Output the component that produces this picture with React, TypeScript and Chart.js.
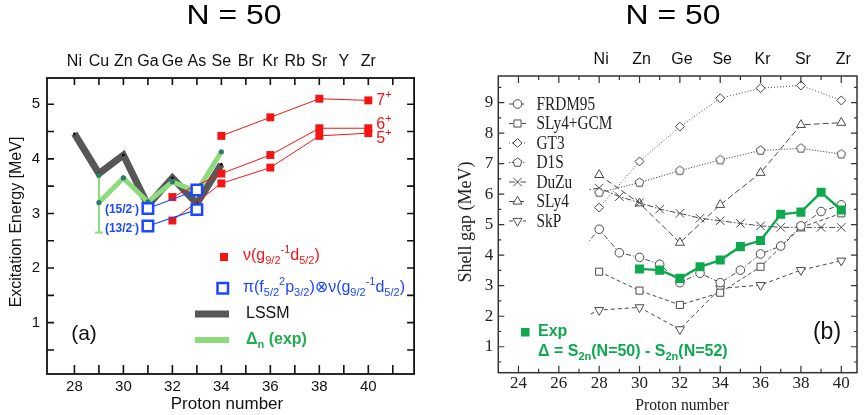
import React, { useEffect, useRef } from 'react';
import { Chart, registerables } from 'chart.js';
import { drawPoint } from 'chart.js/helpers';

Chart.register(...registerables);

// ---------------- Panel (a) data ----------------
const aElements = ['Ni', 'Cu', 'Zn', 'Ga', 'Ge', 'As', 'Se', 'Br', 'Kr', 'Rb', 'Sr', 'Y', 'Zr'];
const aElementZ = [28, 29, 30, 31, 32, 33, 34, 35, 36, 37, 38, 39, 40];
const aXTicks = [28, 30, 32, 34, 36, 38, 40];
const aYTicks = [1, 2, 3, 4, 5];
const lssmZ = [28, 29, 30, 31, 32, 33, 34];
const lssmE = [4.46, 3.73, 4.07, 3.15, 3.65, 3.18, 3.9];
const deltaZ = [29, 30, 31, 32, 33, 34];
const deltaE = [3.2, 3.65, 3.21, 3.58, 3.4, 4.13];
const deltaErrZ = [29, 29];
const deltaErrE = [2.65, 3.7];
const nu7Z = [34, 36, 38, 40];
const nu7E = [4.42, 4.76, 5.1, 5.07];
const nu6Z = [32, 34, 36, 38, 40];
const nu6E = [3.3, 3.73, 4.07, 4.56, 4.56];
const nu5Z = [32, 34, 36, 38, 40];
const nu5E = [2.87, 3.55, 3.84, 4.42, 4.47];
const piZ = [31, 33];
const pi15E = [3.09, 3.43];
const pi13E = [2.77, 3.07];
const spinLabels = ['7', '6', '5'];
const piLabels = ['(15/2', '(13/2'];

// ---------------- Panel (b) data ----------------
const bElements = ['Ni', 'Zn', 'Ge', 'Se', 'Kr', 'Sr', 'Zr'];
const bElementZ = [28, 30, 32, 34, 36, 38, 40];
const bXTicks = [24, 26, 28, 30, 32, 34, 36, 38, 40];
const bYTicks = [1, 2, 3, 4, 5, 6, 7, 8, 9];
const frdmZ = [26, 28, 29, 30, 31, 32, 33, 34, 35, 36, 37, 38, 39, 40];
const frdmG = [3.3, 4.85, 4.08, 3.93, 3.7, 3.1, 3.41, 3.1, 3.51, 4.04, 4.3, 4.96, 5.43, 5.65];
const evenZ = [28, 30, 32, 34, 36, 38, 40];
const slyGcmG = [3.46, 2.84, 2.37, 2.77, 3.62, 4.91, 5.37];
const gt3G = [5.56, 7.07, 8.21, 9.14, 9.47, 9.56, 9.07];
const d1sG = [6.05, 6.38, 6.77, 7.12, 7.43, 7.5, 7.31];
const duzuZ = [26, 28, 29, 30, 31, 32, 33, 34, 35, 36, 37, 38, 39, 40];
const duzuG = [6.0, 6.2, 5.92, 5.72, 5.51, 5.37, 5.21, 5.13, 5.04, 4.96, 4.91, 4.91, 4.91, 4.91];
const sly4G = [6.63, 5.7, 4.41, 5.65, 6.7, 8.27, 8.34];
const skpZ = [26, 28, 30, 32, 34, 36, 38, 40];
const skpG = [1.6, 2.2, 2.29, 1.57, 2.91, 3.02, 3.51, 3.82];
const expZ = [30, 31, 32, 33, 34, 35, 36, 37, 38, 39, 40];
const expG = [3.55, 3.51, 3.24, 3.62, 3.84, 4.28, 4.48, 5.34, 5.41, 6.06, 5.48];
const bLegend = ['FRDM95', 'SLy4+GCM', 'GT3', 'D1S', 'DuZu', 'SLy4', 'SkP'];

// ---------------- styles ----------------
const SANS = '"Liberation Sans", Arial, "DejaVu Sans", sans-serif';
const SERIF = '"Liberation Serif", "Times New Roman", "DejaVu Serif", serif';
const RED = '#f41414';
const BLUE = '#1d48ff';
const LSSM = '#575757';
const LGREEN = '#8ddb7c';
const DOT = '#2d7d6b';
const TGREEN = '#1fae4b';
const EXPG = '#10a84e';
const MODEL = '#4a4a4a';

const pts = (xs: number[], ys: number[]) => xs.map((x, i) => ({ x, y: ys[i] }));

type Seg = [string, number];
function rich(ctx: CanvasRenderingContext2D, segs: Seg[], x: number, y: number, size: number, weight: string, family: string, color: string, align: 'left' | 'right' | 'center' = 'left') {
  const fontFor = (k: number) => `${weight} ${k ? Math.round(size * 0.68) : size}px ${family}`;
  let w = 0;
  for (const [t, k] of segs) { ctx.font = fontFor(k); w += ctx.measureText(t).width; }
  let cx = align === 'right' ? x - w : align === 'center' ? x - w / 2 : x;
  ctx.save();
  ctx.fillStyle = color; ctx.textBaseline = 'middle'; ctx.textAlign = 'left';
  for (const [t, k] of segs) {
    ctx.font = fontFor(k);
    const dy = k === 1 ? size * 0.3 : k === 2 ? -size * 0.35 : 0;
    ctx.fillText(t, cx, y + dy);
    cx += ctx.measureText(t).width;
  }
  ctx.restore();
}
function txt(ctx: CanvasRenderingContext2D, s: string, x: number, y: number, font: string, color: string, align: CanvasTextAlign = 'center', sx = 1, rot = 0) {
  ctx.save();
  ctx.translate(x, y);
  if (rot) ctx.rotate(rot);
  ctx.scale(sx, 1);
  ctx.font = font; ctx.fillStyle = color; ctx.textAlign = align; ctx.textBaseline = 'middle';
  ctx.fillText(s, 0, 0);
  ctx.restore();
}
function makePentagon(r: number, stroke: string) {
  const c = document.createElement('canvas');
  const s = Math.ceil(r * 2 + 3);
  c.width = s; c.height = s;
  const g = c.getContext('2d')!;
  g.beginPath();
  for (let i = 0; i < 5; i++) {
    const ang = -Math.PI / 2 + (i * 2 * Math.PI) / 5;
    const px = s / 2 + r * Math.cos(ang), py = s / 2 + r * Math.sin(ang);
    if (i) g.lineTo(px, py); else g.moveTo(px, py);
  }
  g.closePath();
  g.fillStyle = '#fff'; g.fill();
  g.strokeStyle = stroke; g.lineWidth = 1; g.stroke();
  return c;
}

export default function App() {
  const refA = useRef<HTMLCanvasElement>(null);
  const refB = useRef<HTMLCanvasElement>(null);

  useEffect(() => {
    // ---------- chart (a) ----------
    const decorA = {
      id: 'decorA',
      afterDraw(chart: any) {
        const { ctx, chartArea: a, scales } = chart;
        const xs = scales.x, ys = scales.y;
        ctx.save();
        ctx.strokeStyle = '#111'; ctx.lineWidth = 1.6;
        ctx.beginPath();
        for (let z = 28; z <= 41; z++) {
          const px = xs.getPixelForValue(z);
          ctx.moveTo(px, a.bottom); ctx.lineTo(px, a.bottom - 9);
          ctx.moveTo(px, a.top); ctx.lineTo(px, a.top + 7);
        }
        for (let v = 0.5; v <= 5.01; v += 0.5) {
          const py = ys.getPixelForValue(v);
          ctx.moveTo(a.left, py); ctx.lineTo(a.left + 7, py);
          ctx.moveTo(a.right, py); ctx.lineTo(a.right - 7, py);
        }
        ctx.stroke();
        ctx.lineWidth = 1.8;
        ctx.strokeRect(a.left, a.top, a.right - a.left, a.bottom - a.top);
        ctx.restore();

        txt(ctx, 'N = 50', 234, 16, `28px ${SANS}`, '#000', 'center', 1.14);
        aElements.forEach((el, i) => txt(ctx, el, xs.getPixelForValue(aElementZ[i]), 61.5, `16px ${SANS}`, '#111'));
        txt(ctx, 'Proton number', 227, 404, `17px ${SANS}`, '#111');
        txt(ctx, 'Excitation Energy [MeV]', 17, 222, `16px ${SANS}`, '#111', 'center', 1, -Math.PI / 2);

        // spin labels
        const lx = xs.getPixelForValue(40) + 8;
        rich(ctx, [[spinLabels[0], 0], ['+', 2]], lx, ys.getPixelForValue(nu7E[3]), 16, 'normal', SANS, RED);
        rich(ctx, [[spinLabels[1], 0], ['+', 2]], lx, ys.getPixelForValue(nu6E[4]) - 4, 16, 'normal', SANS, RED);
        rich(ctx, [[spinLabels[2], 0], ['+', 2]], lx, ys.getPixelForValue(nu5E[4]) + 5, 16, 'normal', SANS, RED);
        // pi labels
        const gx = xs.getPixelForValue(piZ[0]) - 9;
        rich(ctx, [[piLabels[0], 0], ['-', 2], [')', 0]], gx, ys.getPixelForValue(pi15E[0]) + 1, 12, 'bold', SANS, BLUE, 'right');
        rich(ctx, [[piLabels[1], 0], ['-', 2], [')', 0]], gx, ys.getPixelForValue(pi13E[0]) + 3, 12, 'bold', SANS, BLUE, 'right');

        // legend
        ctx.save();
        ctx.fillStyle = RED;
        ctx.fillRect(220, 253, 8, 8);
        ctx.strokeStyle = BLUE; ctx.lineWidth = 2.5; ctx.fillStyle = '#fff';
        ctx.fillRect(217.5, 283, 10.5, 10.5);
        ctx.strokeRect(217.5, 283, 10.5, 10.5);
        ctx.lineCap = 'butt';
        ctx.strokeStyle = LSSM; ctx.lineWidth = 7;
        ctx.beginPath(); ctx.moveTo(195, 314); ctx.lineTo(229, 314); ctx.stroke();
        ctx.strokeStyle = LGREEN; ctx.lineWidth = 6;
        ctx.beginPath(); ctx.moveTo(195, 340); ctx.lineTo(229, 340); ctx.stroke();
        ctx.restore();
        rich(ctx, [['\u03bd(g', 0], ['9/2', 1], ['-1', 2], ['d', 0], ['5/2', 1], [')', 0]], 243, 256, 16, 'normal', SANS, RED);
        rich(ctx, [['\u03c0(f', 0], ['5/2', 1], ['2', 2], ['p', 0], ['3/2', 1], [')\u2297\u03bd(g', 0], ['9/2', 1], ['-1', 2], ['d', 0], ['5/2', 1], [')', 0]], 243, 288, 16, 'normal', SANS, BLUE);
        rich(ctx, [['LSSM', 0]], 246, 314, 16, 'normal', SANS, '#111');
        rich(ctx, [['\u0394', 0], ['n', 1], [' (exp)', 0]], 246, 340, 16, 'bold', SANS, TGREEN);
        txt(ctx, '(a)', 84, 334, `21px ${SANS}`, '#111');
      },
    };

    const ca = new Chart(refA.current!, {
      type: 'line',
      data: {
        datasets: [
          { label: 'pi15', data: pts(piZ, pi15E), borderColor: BLUE, borderWidth: 1.2, pointStyle: 'rect', pointRadius: 7.4, pointBorderWidth: 2.5, pointBackgroundColor: '#fff', pointBorderColor: BLUE, order: 1 },
          { label: 'pi13', data: pts(piZ, pi13E), borderColor: BLUE, borderWidth: 1.2, pointStyle: 'rect', pointRadius: 7.4, pointBorderWidth: 2.5, pointBackgroundColor: '#fff', pointBorderColor: BLUE, order: 1 },
          { label: '7+', data: pts(nu7Z, nu7E), borderColor: RED, borderWidth: 1, pointStyle: 'rect', pointRadius: 5.6, pointBorderWidth: 0, pointBackgroundColor: RED, order: 2 },
          { label: '6+', data: pts(nu6Z, nu6E), borderColor: RED, borderWidth: 1, pointStyle: 'rect', pointRadius: 5.6, pointBorderWidth: 0, pointBackgroundColor: RED, order: 2 },
          { label: '5+', data: pts(nu5Z, nu5E), borderColor: RED, borderWidth: 1, pointStyle: 'rect', pointRadius: 5.6, pointBorderWidth: 0, pointBackgroundColor: RED, order: 2 },
          { label: 'delta', data: pts(deltaZ, deltaE), borderColor: LGREEN, borderWidth: 5, pointStyle: 'circle', pointRadius: 2.6, pointBorderWidth: 0, pointBackgroundColor: DOT, order: 3 },
          { label: 'err', data: pts(deltaErrZ, deltaErrE), borderColor: LGREEN, borderWidth: 2, pointStyle: ['line', 'circle'], pointRadius: [4, 2.6], pointBorderWidth: [2, 0], pointBorderColor: LGREEN, pointBackgroundColor: DOT, order: 4 },
          { label: 'LSSM', data: pts(lssmZ, lssmE), borderColor: LSSM, borderWidth: 7, pointStyle: 'circle', pointRadius: 1.5, pointBorderWidth: 0, pointBackgroundColor: '#111', order: 5 },
        ] as any,
      },
      options: {
        animation: false,
        responsive: false,
        events: [],
        layout: { padding: { left: 0, right: 1, top: 78, bottom: 0 } },
        plugins: { legend: { display: false }, tooltip: { enabled: false }, title: { display: false } },
        scales: {
          x: {
            type: 'linear', min: 26.88, max: 41.87,
            afterBuildTicks: (s: any) => { s.ticks = aXTicks.map((v) => ({ value: v })); },
            afterFit: (s: any) => { s.height = 41; },
            ticks: { font: { family: SANS, size: 15 }, color: '#111', padding: 4, maxRotation: 0, autoSkip: false },
            grid: { display: false, drawTicks: false },
            border: { display: false },
          },
          y: {
            type: 'linear', min: 0.06, max: 5.48,
            afterBuildTicks: (s: any) => { s.ticks = aYTicks.map((v) => ({ value: v })); },
            afterFit: (s: any) => { s.width = 47; },
            ticks: { font: { family: SANS, size: 15 }, color: '#111', padding: 7, autoSkip: false },
            grid: { display: false, drawTicks: false },
            border: { display: false },
          },
        },
      } as any,
      plugins: [decorA],
    });

    // ---------- chart (b) ----------
    const OX = 432;
    const pent = makePentagon(4.6, MODEL);
    const models = [
      { label: bLegend[0], xs: frdmZ, ys: frdmG, ps: 'circle', r: 4.3, rot: 0, dash: [5, 2, 1, 2] },
      { label: bLegend[1], xs: evenZ, ys: slyGcmG, ps: 'rect', r: 5, rot: 0, dash: [4, 2.5] },
      { label: bLegend[2], xs: evenZ, ys: gt3G, ps: 'rectRot', r: 4.5, rot: 0, dash: [1, 2] },
      { label: bLegend[3], xs: evenZ, ys: d1sG, ps: pent, r: 4.6, rot: 0, dash: [1.2, 1.6] },
      { label: bLegend[4], xs: duzuZ, ys: duzuG, ps: 'crossRot', r: 6, rot: 0, dash: [6, 2, 1.5, 2] },
      { label: bLegend[5], xs: evenZ, ys: sly4G, ps: 'triangle', r: 5.2, rot: 0, dash: [6, 3] },
      { label: bLegend[6], xs: skpZ, ys: skpG, ps: 'triangle', r: 5.2, rot: 180, dash: [4, 3] },
    ];

    const decorB = {
      id: 'decorB',
      afterDatasetsDraw(chart: any) {
        const { ctx, chartArea: a } = chart;
        ctx.save();
        ctx.fillStyle = '#fff';
        ctx.fillRect(a.left + 1, a.top + 1, 588 - OX - a.left - 1, 345 - a.top);
        ctx.restore();
        models.forEach((m, i) => {
          const y = 104 + 19.5 * i;
          ctx.save();
          ctx.strokeStyle = MODEL; ctx.lineWidth = 1; ctx.setLineDash(m.dash);
          ctx.beginPath(); ctx.moveTo(509 - OX, y); ctx.lineTo(526 - OX, y); ctx.stroke();
          ctx.setLineDash([]);
          ctx.fillStyle = '#fff'; ctx.strokeStyle = MODEL;
          drawPoint(ctx, { pointStyle: m.ps, rotation: m.rot, radius: m.r, borderWidth: 1 } as any, 517.5 - OX, y);
          ctx.restore();
          txt(ctx, m.label, 536.5 - OX, y + 1, `18px ${SERIF}`, '#222', 'left', 0.85);
        });
      },
      afterDraw(chart: any) {
        const { ctx, chartArea: a, scales } = chart;
        const xs = scales.x, ys = scales.y;
        ctx.save();
        ctx.strokeStyle = '#333'; ctx.lineWidth = 1.2;
        ctx.beginPath();
        for (let z = 24; z <= 40; z++) {
          const px = xs.getPixelForValue(z);
          const l = z % 2 === 0 ? 7 : 4;
          ctx.moveTo(px, a.bottom); ctx.lineTo(px, a.bottom - l);
          ctx.moveTo(px, a.top); ctx.lineTo(px, a.top + l);
        }
        for (let v = 0.5; v <= 9.51; v += 0.5) {
          const py = ys.getPixelForValue(v);
          const l = Math.abs(v - Math.round(v)) < 0.01 ? 6 : 3;
          ctx.moveTo(a.left, py); ctx.lineTo(a.left + l, py);
          ctx.moveTo(a.right, py); ctx.lineTo(a.right - l, py);
        }
        ctx.stroke();
        ctx.lineWidth = 1.5;
        ctx.strokeRect(a.left, a.top, a.right - a.left, a.bottom - a.top);
        ctx.restore();

        txt(ctx, 'N = 50', 673 - OX, 16, `28px ${SANS}`, '#000', 'center', 1.14);
        bElements.forEach((el, i) => txt(ctx, el, xs.getPixelForValue(bElementZ[i]) + 2, 60, `16px ${SANS}`, '#111'));
        txt(ctx, 'Proton number', 682 - OX, 406, `17px ${SERIF}`, '#222', 'center', 0.92);
        txt(ctx, 'Shell gap (MeV)', 466 - OX, 222, `18px ${SERIF}`, '#222', 'center', 1, -Math.PI / 2);

        ctx.save(); ctx.fillStyle = EXPG; ctx.fillRect(521 - OX, 328, 8.5, 8.5); ctx.restore();
        rich(ctx, [['Exp', 0]], 538 - OX, 332, 16, 'bold', SANS, EXPG);
        rich(ctx, [['\u0394 = S', 0], ['2n', 1], ['(N=50) - S', 0], ['2n', 1], ['(N=52)', 0]], 538 - OX, 352, 16, 'bold', SANS, EXPG);
        txt(ctx, '(b)', 827 - OX, 333, `23px ${SANS}`, '#111');
      },
    };

    const cb = new Chart(refB.current!, {
      type: 'line',
      data: {
        datasets: [
          { label: 'Exp', data: pts(expZ, expG), borderColor: EXPG, borderWidth: 2.4, pointStyle: 'rect', pointRadius: 6.4, pointBorderWidth: 0, pointBackgroundColor: EXPG, order: 0 },
          ...models.map((m, i) => ({
            label: m.label, data: pts(m.xs, m.ys), borderColor: MODEL, borderWidth: 1, borderDash: m.dash,
            pointStyle: m.ps, pointRadius: m.r, pointRotation: m.rot, pointBorderWidth: 1, pointBorderColor: MODEL, pointBackgroundColor: '#fff', order: i + 1,
          })),
        ] as any,
      },
      options: {
        animation: false,
        responsive: false,
        events: [],
        layout: { padding: { left: 0, right: 2, top: 76, bottom: 0 } },
        plugins: { legend: { display: false }, tooltip: { enabled: false }, title: { display: false } },
        scales: {
          x: {
            type: 'linear', min: 23, max: 40.78,
            afterBuildTicks: (s: any) => { s.ticks = bXTicks.map((v) => ({ value: v })); },
            afterFit: (s: any) => { s.height = 42.3; },
            ticks: { font: { family: SERIF, size: 17 }, color: '#222', padding: 1, maxRotation: 0, autoSkip: false },
            grid: { display: false, drawTicks: false },
            border: { display: false },
          },
          y: {
            type: 'linear', min: 0.15, max: 9.87,
            afterBuildTicks: (s: any) => { s.ticks = bYTicks.map((v) => ({ value: v })); },
            afterFit: (s: any) => { s.width = 66.3; },
            ticks: { font: { family: SERIF, size: 17 }, color: '#222', padding: 5, autoSkip: false },
            grid: { display: false, drawTicks: false },
            border: { display: false },
          },
        },
      } as any,
      plugins: [decorB],
    });

    return () => { ca.destroy(); cb.destroy(); };
  }, []);

  return (
    <div style={{ position: 'fixed', left: 0, top: 0, width: 864, height: 415, background: '#fff', overflow: 'hidden' }}>
      <div style={{ position: 'absolute', left: 0, top: 0, width: 420, height: 415, overflow: 'hidden' }}>
        <canvas ref={refA} width={424} height={415} style={{ display: 'block', width: 424, height: 415 }} />
      </div>
      <div style={{ position: 'absolute', left: 432, top: 0, width: 432, height: 415 }}>
        <canvas ref={refB} width={432} height={415} style={{ display: 'block', width: 432, height: 415 }} />
      </div>
    </div>
  );
}
